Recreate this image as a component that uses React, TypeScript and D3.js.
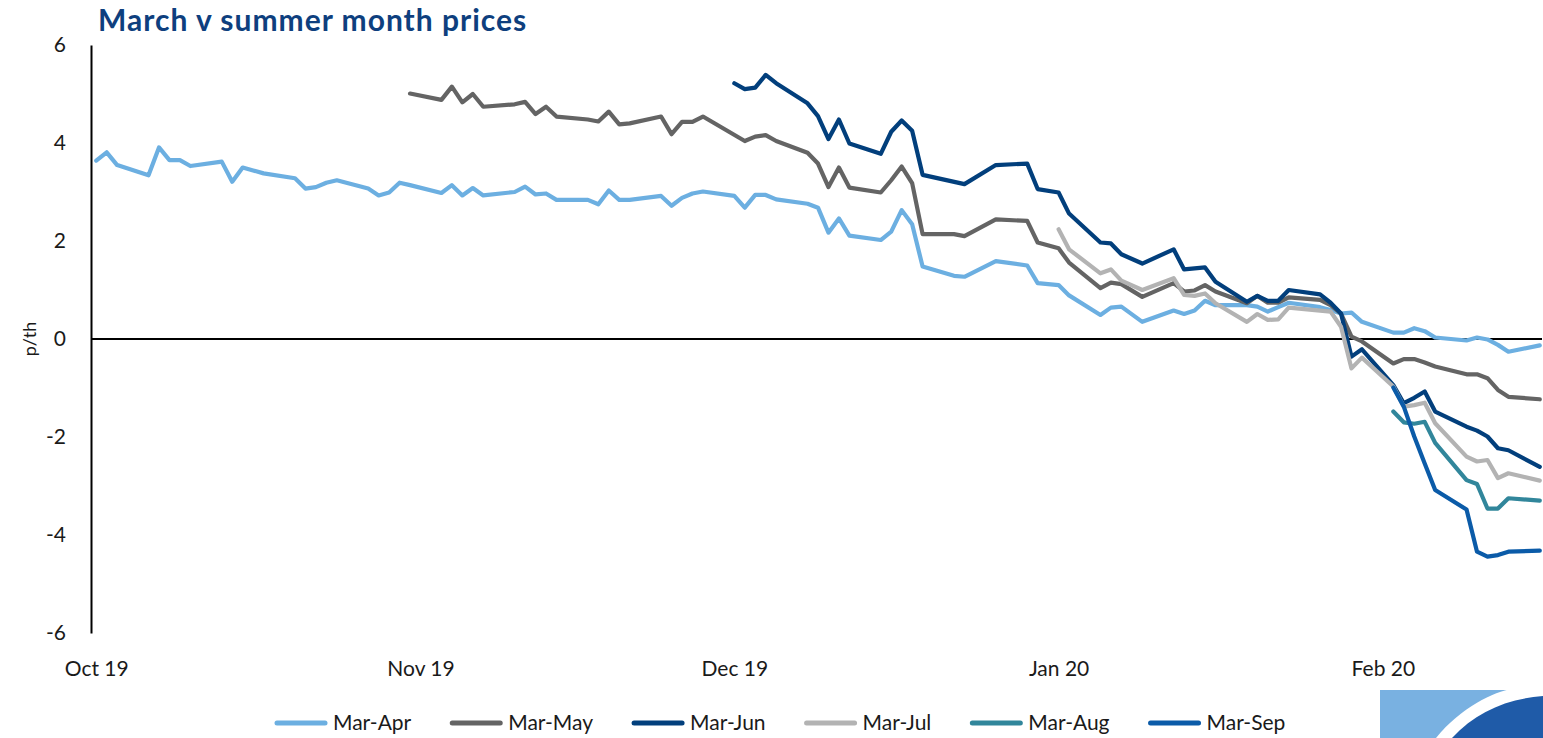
import React, { useEffect, useRef } from "react";
import * as d3 from "d3";

// series names + line colours
const seriesNames = ["Mar-Apr", "Mar-May", "Mar-Jun", "Mar-Jul", "Mar-Aug", "Mar-Sep"];
const seriesColors = ["#6cafe1", "#646464", "#023f7c", "#b3b3b3", "#31869b", "#0b5ba8"];

const yTicks = [-6, -4, -2, 0, 2, 4, 6];
const monthTicks = ["2019-10-01", "2019-11-01", "2019-12-01", "2020-01-01", "2020-02-01"];

// spreads in p/th
const marApr: [string, number][] = [
  ["2019-10-01", 3.64], ["2019-10-02", 3.81], ["2019-10-03", 3.55], ["2019-10-06", 3.34],
  ["2019-10-07", 3.91], ["2019-10-08", 3.65], ["2019-10-09", 3.65], ["2019-10-10", 3.53],
  ["2019-10-13", 3.62], ["2019-10-14", 3.21], ["2019-10-15", 3.5], ["2019-10-16", 3.44],
  ["2019-10-17", 3.38], ["2019-10-20", 3.28], ["2019-10-21", 3.07], ["2019-10-22", 3.1],
  ["2019-10-23", 3.19], ["2019-10-24", 3.24], ["2019-10-27", 3.07], ["2019-10-28", 2.93],
  ["2019-10-29", 2.99], ["2019-10-30", 3.19], ["2019-10-31", 3.14], ["2019-11-03", 2.98],
  ["2019-11-04", 3.14], ["2019-11-05", 2.93], ["2019-11-06", 3.08], ["2019-11-07", 2.93],
  ["2019-11-10", 3.0], ["2019-11-11", 3.11], ["2019-11-12", 2.95], ["2019-11-13", 2.97],
  ["2019-11-14", 2.84], ["2019-11-17", 2.84], ["2019-11-18", 2.75], ["2019-11-19", 3.03],
  ["2019-11-20", 2.84], ["2019-11-21", 2.84], ["2019-11-24", 2.92], ["2019-11-25", 2.72],
  ["2019-11-26", 2.88], ["2019-11-27", 2.97], ["2019-11-28", 3.01], ["2019-12-01", 2.92],
  ["2019-12-02", 2.68], ["2019-12-03", 2.94], ["2019-12-04", 2.94], ["2019-12-05", 2.85],
  ["2019-12-08", 2.76], ["2019-12-09", 2.68], ["2019-12-10", 2.17], ["2019-12-11", 2.46],
  ["2019-12-12", 2.11], ["2019-12-15", 2.02], ["2019-12-16", 2.19], ["2019-12-17", 2.63],
  ["2019-12-18", 2.34], ["2019-12-19", 1.48], ["2019-12-22", 1.29], ["2019-12-23", 1.27],
  ["2019-12-26", 1.59], ["2019-12-29", 1.5], ["2019-12-30", 1.14], ["2020-01-01", 1.1],
  ["2020-01-02", 0.89], ["2020-01-05", 0.49], ["2020-01-06", 0.64], ["2020-01-07", 0.66],
  ["2020-01-09", 0.35], ["2020-01-12", 0.58], ["2020-01-13", 0.51], ["2020-01-14", 0.58],
  ["2020-01-15", 0.78], ["2020-01-16", 0.69], ["2020-01-19", 0.69], ["2020-01-20", 0.66],
  ["2020-01-21", 0.56], ["2020-01-22", 0.65], ["2020-01-23", 0.74], ["2020-01-26", 0.65],
  ["2020-01-27", 0.59], ["2020-01-28", 0.52], ["2020-01-29", 0.54], ["2020-01-30", 0.35],
  ["2020-02-02", 0.13], ["2020-02-03", 0.13], ["2020-02-04", 0.22], ["2020-02-05", 0.16],
  ["2020-02-06", 0.03], ["2020-02-09", -0.03], ["2020-02-10", 0.03], ["2020-02-11", -0.01],
  ["2020-02-12", -0.12], ["2020-02-13", -0.26], ["2020-02-16", -0.13],
];

const marMay: [string, number][] = [
  ["2019-10-31", 5.01], ["2019-11-03", 4.88], ["2019-11-04", 5.15], ["2019-11-05", 4.83],
  ["2019-11-06", 5.0], ["2019-11-07", 4.74], ["2019-11-10", 4.79], ["2019-11-11", 4.84],
  ["2019-11-12", 4.59], ["2019-11-13", 4.74], ["2019-11-14", 4.54], ["2019-11-17", 4.48],
  ["2019-11-18", 4.44], ["2019-11-19", 4.64], ["2019-11-20", 4.38], ["2019-11-21", 4.4],
  ["2019-11-24", 4.54], ["2019-11-25", 4.18], ["2019-11-26", 4.43], ["2019-11-27", 4.43],
  ["2019-11-28", 4.54], ["2019-12-02", 4.04], ["2019-12-03", 4.13], ["2019-12-04", 4.16],
  ["2019-12-05", 4.04], ["2019-12-08", 3.8], ["2019-12-09", 3.58], ["2019-12-10", 3.1],
  ["2019-12-11", 3.5], ["2019-12-12", 3.09], ["2019-12-15", 2.99], ["2019-12-16", 3.24],
  ["2019-12-17", 3.52], ["2019-12-18", 3.18], ["2019-12-19", 2.14], ["2019-12-22", 2.14],
  ["2019-12-23", 2.1], ["2019-12-26", 2.44], ["2019-12-29", 2.41], ["2019-12-30", 1.97],
  ["2020-01-01", 1.85], ["2020-01-02", 1.56], ["2020-01-05", 1.04], ["2020-01-06", 1.15],
  ["2020-01-07", 1.12], ["2020-01-09", 0.86], ["2020-01-12", 1.14], ["2020-01-13", 0.97],
  ["2020-01-14", 0.99], ["2020-01-15", 1.1], ["2020-01-16", 0.97], ["2020-01-19", 0.73],
  ["2020-01-20", 0.88], ["2020-01-21", 0.74], ["2020-01-22", 0.74], ["2020-01-23", 0.85],
  ["2020-01-26", 0.8], ["2020-01-27", 0.69], ["2020-01-28", 0.52], ["2020-01-29", 0.05],
  ["2020-01-30", -0.05], ["2020-02-02", -0.5], ["2020-02-03", -0.41], ["2020-02-04", -0.41],
  ["2020-02-05", -0.48], ["2020-02-06", -0.56], ["2020-02-09", -0.72], ["2020-02-10", -0.72],
  ["2020-02-11", -0.8], ["2020-02-12", -1.04], ["2020-02-13", -1.18], ["2020-02-16", -1.23],
];

const marJun: [string, number][] = [
  ["2019-12-01", 5.22], ["2019-12-02", 5.1], ["2019-12-03", 5.13], ["2019-12-04", 5.39],
  ["2019-12-05", 5.22], ["2019-12-08", 4.81], ["2019-12-09", 4.55], ["2019-12-10", 4.08],
  ["2019-12-11", 4.48], ["2019-12-12", 3.99], ["2019-12-15", 3.78], ["2019-12-16", 4.23],
  ["2019-12-17", 4.46], ["2019-12-18", 4.25], ["2019-12-19", 3.35], ["2019-12-23", 3.16],
  ["2019-12-26", 3.55], ["2019-12-29", 3.58], ["2019-12-30", 3.06], ["2020-01-01", 2.99],
  ["2020-01-02", 2.56], ["2020-01-05", 1.97], ["2020-01-06", 1.95], ["2020-01-07", 1.73],
  ["2020-01-09", 1.54], ["2020-01-12", 1.83], ["2020-01-13", 1.42], ["2020-01-14", 1.44],
  ["2020-01-15", 1.46], ["2020-01-16", 1.17], ["2020-01-19", 0.76], ["2020-01-20", 0.88],
  ["2020-01-21", 0.78], ["2020-01-22", 0.78], ["2020-01-23", 1.0], ["2020-01-26", 0.91],
  ["2020-01-27", 0.74], ["2020-01-28", 0.52], ["2020-01-29", -0.36], ["2020-01-30", -0.21],
  ["2020-02-02", -0.94], ["2020-02-03", -1.31], ["2020-02-04", -1.2], ["2020-02-05", -1.07],
  ["2020-02-06", -1.48], ["2020-02-09", -1.79], ["2020-02-10", -1.87], ["2020-02-11", -1.99],
  ["2020-02-12", -2.23], ["2020-02-13", -2.27], ["2020-02-16", -2.61],
];

const marJul: [string, number][] = [
  ["2020-01-01", 2.24], ["2020-01-02", 1.83], ["2020-01-05", 1.34], ["2020-01-06", 1.42],
  ["2020-01-07", 1.19], ["2020-01-09", 1.0], ["2020-01-12", 1.24], ["2020-01-13", 0.9],
  ["2020-01-14", 0.88], ["2020-01-15", 0.93], ["2020-01-16", 0.73], ["2020-01-19", 0.35],
  ["2020-01-20", 0.51], ["2020-01-21", 0.39], ["2020-01-22", 0.4], ["2020-01-23", 0.64],
  ["2020-01-26", 0.58], ["2020-01-27", 0.56], ["2020-01-28", 0.25], ["2020-01-29", -0.6],
  ["2020-01-30", -0.38], ["2020-02-02", -0.97], ["2020-02-03", -1.38], ["2020-02-04", -1.35],
  ["2020-02-05", -1.3], ["2020-02-06", -1.72], ["2020-02-09", -2.4], ["2020-02-10", -2.5],
  ["2020-02-11", -2.47], ["2020-02-12", -2.84], ["2020-02-13", -2.74], ["2020-02-16", -2.89],
];

const marAug: [string, number][] = [
  ["2020-02-02", -1.48], ["2020-02-03", -1.7], ["2020-02-04", -1.73], ["2020-02-05", -1.69],
  ["2020-02-06", -2.12], ["2020-02-09", -2.88], ["2020-02-10", -2.96], ["2020-02-11", -3.46],
  ["2020-02-12", -3.46], ["2020-02-13", -3.25], ["2020-02-16", -3.3],
];

const marSep: [string, number][] = [
  ["2020-02-02", -0.99], ["2020-02-03", -1.38], ["2020-02-04", -1.99], ["2020-02-05", -2.54],
  ["2020-02-06", -3.08], ["2020-02-09", -3.48], ["2020-02-10", -4.34], ["2020-02-11", -4.44],
  ["2020-02-12", -4.41], ["2020-02-13", -4.34], ["2020-02-16", -4.32],
];

const allSeries = [marApr, marMay, marJun, marJul, marAug, marSep];

const FONT = "Lato, 'Open Sans', sans-serif";

export default function App() {
  const svgRef = useRef<SVGSVGElement>(null);

  useEffect(() => {
    const svg = d3.select(svgRef.current);
    svg.selectAll("*").remove();
    const parse = d3.timeParse("%Y-%m-%d");

    // date axis, each day sits in the middle of its slot
    const x = d3
      .scaleTime()
      .domain([new Date(2019, 8, 30, 12), new Date(2020, 1, 16, 12)])
      .range([91, 1545]);
    const y = d3.scaleLinear().domain([-6, 6]).range([633, 45]);

    // title
    svg
      .append("text")
      .attr("x", 98)
      .attr("y", 31)
      .attr("font-family", FONT)
      .attr("font-weight", 700)
      .attr("font-size", 30)
      .attr("letter-spacing", 1)
      .attr("fill", "#0e3f7e")
      .text("March v summer month prices");

    // y axis
    const yAxis = svg
      .append("g")
      .attr("transform", "translate(91,0)")
      .call(
        d3
          .axisLeft(y)
          .tickValues(yTicks)
          .tickSize(0)
          .tickPadding(25)
          .tickFormat((d) => String(d))
      );
    yAxis.select(".domain").attr("stroke", "#000").attr("stroke-width", 2);
    yAxis
      .selectAll("text")
      .attr("font-family", FONT)
      .attr("font-size", 21)
      .attr("fill", "#1a1a1a");

    svg
      .append("text")
      .attr("transform", `translate(36,${y(0)}) rotate(-90)`)
      .attr("text-anchor", "middle")
      .attr("font-family", FONT)
      .attr("font-size", 18)
      .attr("fill", "#1a1a1a")
      .text("p/th");

    // month labels under the plot
    const xAxis = svg
      .append("g")
      .attr("transform", `translate(0,${y(-6)})`)
      .call(
        d3
          .axisBottom(x)
          .tickValues(monthTicks.map((d) => parse(d) as Date))
          .tickSize(0)
          .tickPadding(28)
          .tickFormat((d) => d3.timeFormat("%b %y")(d as Date))
      );
    xAxis.select(".domain").remove();
    xAxis
      .selectAll("text")
      .attr("font-family", FONT)
      .attr("font-size", 21)
      .attr("fill", "#1a1a1a");

    // zero line
    svg
      .append("line")
      .attr("x1", x.range()[0])
      .attr("x2", x.range()[1] - 3)
      .attr("y1", y(0))
      .attr("y2", y(0))
      .attr("stroke", "#000")
      .attr("stroke-width", 2);

    const line = d3
      .line<[string, number]>()
      .x((d) => x(parse(d[0]) as Date))
      .y((d) => y(d[1]));

    svg
      .append("g")
      .selectAll("path")
      .data(allSeries)
      .join("path")
      .attr("d", (d) => line(d))
      .attr("fill", "none")
      .attr("stroke", (d, i) => seriesColors[i])
      .attr("stroke-width", 4.2)
      .attr("stroke-linejoin", "round")
      .attr("stroke-linecap", "round");

    // legend
    const legend = svg.append("g").attr("transform", "translate(0,723)");
    let cursor = 275;
    seriesNames.forEach((name, i) => {
      legend
        .append("line")
        .attr("x1", cursor + 2)
        .attr("x2", cursor + 50)
        .attr("stroke", seriesColors[i])
        .attr("stroke-width", 5)
        .attr("stroke-linecap", "round");
      const t = legend
        .append("text")
        .attr("x", cursor + 58)
        .attr("dy", "0.35em")
        .attr("font-family", FONT)
        .attr("font-size", 21)
        .attr("fill", "#1a1a1a")
        .text(name);
      const w = (t.node() as SVGTextElement).getComputedTextLength();
      cursor += 58 + w + 39;
    });

    // corner logo
    const logo = svg.append("g");
    logo.append("rect").attr("x", 1380).attr("y", 690).attr("width", 163).attr("height", 48).attr("fill", "#79b1e1");
    logo
      .append("path")
      .attr("d", "M1436,738 C1460,708 1495,691 1512,689 L1543,689 L1543,738 Z")
      .attr("fill", "#fff");
    logo
      .append("path")
      .attr("d", "M1452,738 C1476,712 1506,699 1543,696 L1543,738 Z")
      .attr("fill", "#1f5ba8");
  }, []);

  return (
    <svg
      ref={svgRef}
      width={1543}
      height={738}
      style={{ position: "absolute", left: 0, top: 0, display: "block", background: "#fff" }}
    />
  );
}
